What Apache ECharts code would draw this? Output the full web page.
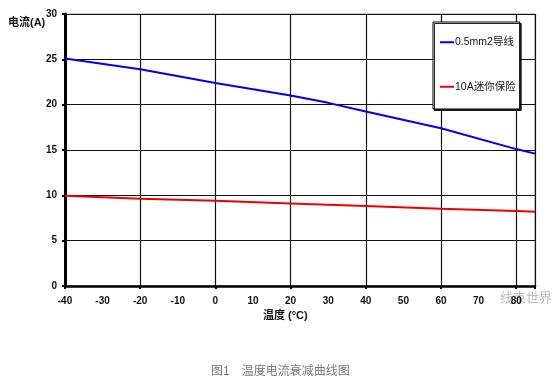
<!DOCTYPE html>
<html><head><meta charset="utf-8">
<script src="https://cdn.jsdelivr.net/npm/echarts@6/dist/echarts.min.js"></script>
<style>html,body{margin:0;padding:0;background:#fff}#c{width:560px;height:387px}</style>
</head><body><div id="c"></div>
<script>
const temps = [-40, -20, 0, 20, 30, 40, 60, 80, 85];
const wireCurrent = [25.1, 23.9, 22.4, 21.0, 20.2, 19.25, 17.4, 15.1, 14.6];
const fuseCurrent = [9.96, 9.62, 9.4, 9.11, 8.97, 8.82, 8.52, 8.26, 8.19];
const seriesNames = ['0.5mm2导线', '10A迷你保险'];
const yTitle = '电流(A)';
const xTitle = '温度 (°C)';
const caption = '图1　温度电流衰减曲线图';

const chart = echarts.init(document.getElementById('c'));
const font = 'Arial, "Liberation Sans", "Noto Sans CJK SC", sans-serif';
chart.setOption({
  animation: false,
  grid: {left: 65, top: 14, right: 25, bottom: 101, show: true, borderColor: '#999', borderWidth: 1},
  xAxis: [{
    type: 'value', min: -40, max: 85, interval: 10,
    axisLine: {show: true, onZero: false, lineStyle: {color: '#000', width: 2.5}},
    axisTick: {show: false},
    splitLine: {show: false},
    axisLabel: {color: '#111', fontWeight: 'bold', fontSize: 10, fontFamily: font, margin: 10,
      formatter: v => (v > 80 ? '' : v)}
  }, {
    type: 'value', min: -40, max: 85, interval: 20, position: 'bottom',
    axisLine: {show: false, onZero: false},
    axisTick: {show: true, inside: false, length: 3, lineStyle: {color: '#000', width: 2}},
    axisLabel: {show: false},
    splitLine: {show: true, lineStyle: {color: '#111', width: 1.2}}
  }],
  yAxis: {
    type: 'value', min: 0, max: 30, interval: 5,
    axisLine: {show: true, onZero: false, lineStyle: {color: '#000', width: 3}},
    axisTick: {show: true, length: 3, lineStyle: {color: '#000', width: 2}},
    splitLine: {show: true, lineStyle: {color: '#111', width: 1.2}},
    axisLabel: {color: '#111', fontWeight: 'bold', fontSize: 10, fontFamily: font, margin: 8}
  },
  legend: {
    orient: 'vertical', left: 433, top: 22, width: 80,
    backgroundColor: '#fff', borderColor: '#000', borderWidth: 1,
    shadowColor: 'rgba(0,0,0,0.85)', shadowOffsetX: 1.5, shadowOffsetY: 1.5, shadowBlur: 0,
    padding: [15, 4, 17, 7], itemGap: 34, itemWidth: 14, itemHeight: 2,
    icon: 'rect',
    textStyle: {fontSize: 10.5, color: '#111', fontFamily: font, padding: [0, 0, 0, -4]},
    data: seriesNames
  },
  series: [
    {name: seriesNames[0], type: 'line', xAxisIndex: 0, showSymbol: false, symbol: 'none',
     data: temps.map((t, i) => [t, wireCurrent[i]]), lineStyle: {color: '#0000ee', width: 2}, itemStyle: {color: '#0000ee'}},
    {name: seriesNames[1], type: 'line', xAxisIndex: 0, showSymbol: false, symbol: 'none',
     data: temps.map((t, i) => [t, fuseCurrent[i]]), lineStyle: {color: '#ee0000', width: 2}, itemStyle: {color: '#ee0000'}}
  ],
  graphic: [
    {type: 'text', left: 8, top: 17, style: {text: yTitle, font: 'bold 11px ' + font, fill: '#111'}},
    {type: 'text', left: 263, top: 310, style: {text: xTitle, font: 'bold 11px ' + font, fill: '#111'}},
    {type: 'text', left: 211, top: 366, style: {text: caption, font: '12px ' + font, fill: '#777'}},
    {type: 'text', left: 500, top: 292, style: {text: '线束世界', font: '13px ' + font, fill: '#bbb'}}
  ]
});
</script></body></html>
